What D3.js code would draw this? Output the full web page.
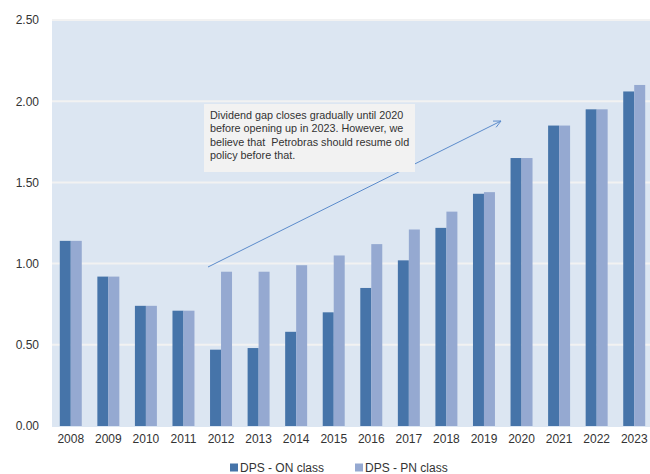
<!DOCTYPE html>
<html><head><meta charset="utf-8">
<script src="https://cdn.jsdelivr.net/npm/d3@7"></script>
<style>
body{margin:0;background:#fff;}
text{font-family:"Liberation Sans",Arial,sans-serif;}
</style></head>
<body>
<svg id="chart" width="650" height="474"></svg>
<script>
const years = ["2008","2009","2010","2011","2012","2013","2014","2015","2016","2017","2018","2019","2020","2021","2022","2023"];
const dpsON = [1.14,0.92,0.74,0.71,0.47,0.48,0.58,0.70,0.85,1.02,1.22,1.43,1.65,1.85,1.95,2.06];
const dpsPN = [1.14,0.92,0.74,0.71,0.95,0.95,0.99,1.05,1.12,1.21,1.32,1.44,1.65,1.85,1.95,2.10];
const yTicks = [0,0.5,1.0,1.5,2.0,2.5];
const seriesNames = ["DPS - ON class","DPS - PN class"];
const noteLines = ["Dividend gap closes gradually until 2020","before opening up in 2023. However, we","believe that  Petrobras should resume old","policy before that."];

const colors = ["#4674a9","#95a9d1"];
const svg = d3.select("#chart");
const L = 52, R = 653, T = 20, B = 426;

const x = d3.scaleBand().domain(years).range([L, R]).paddingInner(0.415).paddingOuter(0.2075);
const y = d3.scaleLinear().domain([0, 2.5]).range([B, T]);

svg.append("rect").attr("x", L).attr("y", T).attr("width", R - L).attr("height", B - T + 1).attr("fill", "#dce6f2");

svg.append("g").selectAll("line").data(yTicks.slice(1)).join("line")
  .attr("x1", L).attr("x2", R).attr("y1", d => y(d)).attr("y2", d => y(d))
  .attr("stroke", "#f2f2f2").attr("stroke-width", 2);

const bw = x.bandwidth() / 2;
const g = svg.append("g");
[dpsON, dpsPN].forEach((vals, si) => {
  g.append("g").selectAll("rect").data(vals).join("rect")
    .attr("x", (d, i) => x(years[i]) + si * bw)
    .attr("y", d => y(d))
    .attr("width", bw)
    .attr("height", d => B - y(d))
    .attr("fill", colors[si]);
});

// y axis labels
const yAxis = d3.axisLeft(y).tickValues(yTicks).tickFormat(d3.format(".2f")).tickSize(0).tickPadding(0);
const ya = svg.append("g").attr("transform", `translate(39,0)`).call(yAxis);
ya.select(".domain").remove();
ya.selectAll("text").attr("font-size", 12).attr("fill", "#333").attr("font-family", "Liberation Sans, Arial, sans-serif");

// x axis labels
const xAxis = d3.axisBottom(x).tickSize(0).tickPadding(0);
const xa = svg.append("g").attr("transform", `translate(0,434)`).call(xAxis);
xa.select(".domain").remove();
xa.selectAll("text").attr("font-size", 12).attr("fill", "#333").attr("font-family", "Liberation Sans, Arial, sans-serif");

// arrow
svg.append("line").attr("x1", 208).attr("y1", 267).attr("x2", 501).attr("y2", 121)
  .attr("stroke", "#5b8bcb").attr("stroke-width", 1);
const ang = Math.atan2(121 - 267, 501 - 208);
[0.45, -0.45].forEach(a => {
  svg.append("line").attr("x1", 501).attr("y1", 121)
    .attr("x2", 501 - 8 * Math.cos(ang + a)).attr("y2", 121 - 8 * Math.sin(ang + a))
    .attr("stroke", "#5b8bcb").attr("stroke-width", 1);
});

// note box
svg.append("rect").attr("x", 204).attr("y", 104).attr("width", 211).attr("height", 68).attr("fill", "#f2f2f2");
svg.append("g").selectAll("text").data(noteLines).join("text")
  .attr("x", 210).attr("y", (d, i) => 119 + i * 13.3)
  .attr("font-size", 10.8).attr("fill", "#333").attr("xml:space", "preserve")
  .style("white-space", "pre")
  .text(d => d);

// legend
const lg = svg.append("g");
const legX = [230, 355];
seriesNames.forEach((n, i) => {
  lg.append("rect").attr("x", legX[i]).attr("y", 463.5).attr("width", 8).attr("height", 8).attr("fill", colors[i]);
  lg.append("text").attr("x", legX[i] + 10).attr("y", 472).attr("font-size", 12).attr("fill", "#333").text(n);
});
</script>
</body></html>
